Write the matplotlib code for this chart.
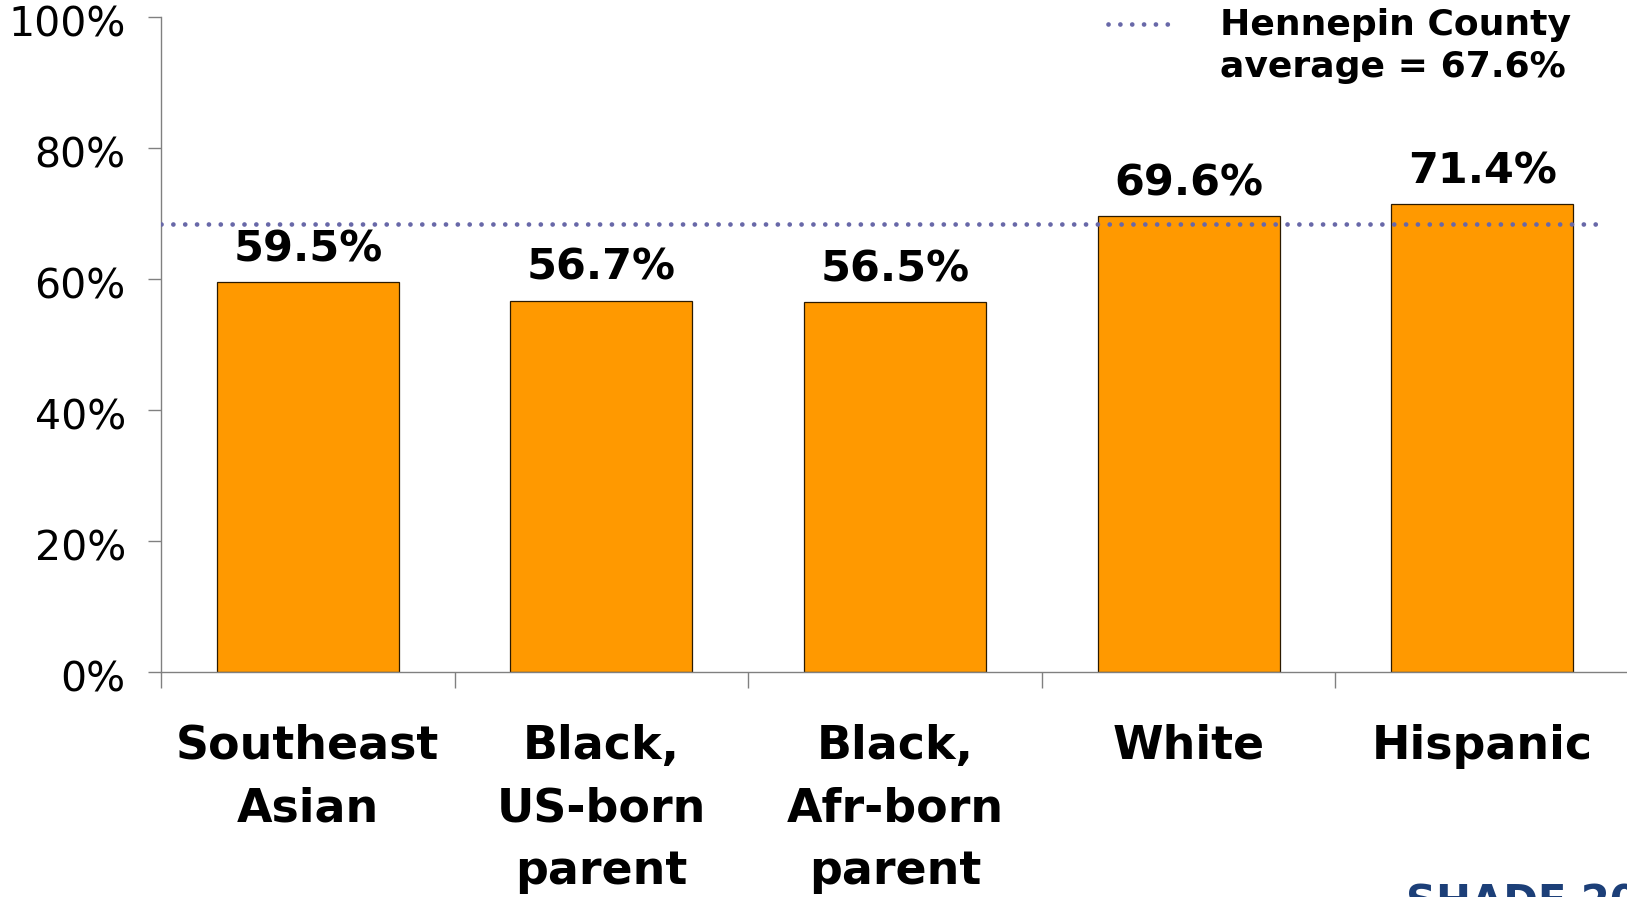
import matplotlib.pyplot as plt
import numpy as np
from matplotlib.lines import Line2D
from matplotlib.transforms import ScaledTranslation

# data
groups = ['Southeast\nAsian', 'Black,\nUS-born\nparent', 'Black,\nAfr-born\nparent', 'White', 'Hispanic']
values = [59.5, 56.7, 56.5, 69.6, 71.4]
value_labels = ['59.5%', '56.7%', '56.5%', '69.6%', '71.4%']
county_avg_label = 'Hennepin County\naverage = 67.6%'
avg_line_level = 68.3  # where the dotted line sits in the picture
y_ticks = [0, 20, 40, 60, 80, 100]

plt.rcParams['font.family'] = 'DejaVu Sans'

fig = plt.figure(figsize=(16.27, 8.97), dpi=100)
ax = fig.add_axes([0.099, 0.2504, 0.9022, 0.7311])

x = np.arange(len(groups))
ax.bar(x, values, width=0.62, color='#ff9900', edgecolor='#2b1a00', linewidth=0.9, zorder=2)

for xi, v, lab in zip(x, values, value_labels):
    ax.annotate(lab, (xi, v), xytext=(0, 14.8), textcoords='offset points',
                ha='center', va='baseline', fontsize=31, fontweight='bold', zorder=4)

# county average
ax.hlines(avg_line_level, -0.5, len(groups) - 0.61, colors='#6868a8', linewidth=3.4,
          linestyles=(0, (0.01, 2.5)), zorder=3, capstyle='round')

ax.set_xlim(-0.5, len(groups) - 0.5)
ax.set_ylim(0, 100)

ax.set_xticks(x)
ax.set_xticklabels(groups, fontsize=33, fontweight='bold', linespacing=1.5)
ax.tick_params(axis='x', which='major', length=0, pad=37)
ax.set_xticks(np.arange(len(groups)) - 0.5, minor=True)
ax.tick_params(axis='x', which='minor', length=11.5, width=1.0, color='#808080', direction='out')

ax.set_yticks(y_ticks)
ax.set_yticklabels([f'{t}%' for t in y_ticks], fontsize=29.5)
ax.tick_params(axis='y', length=9.4, width=1.0, color='#808080', pad=16)
for lab in ax.get_yticklabels():
    lab.set_transform(lab.get_transform() + ScaledTranslation(0, -4 / 100, fig.dpi_scale_trans))

for side in ['top', 'right']:
    ax.spines[side].set_visible(False)
for side in ['left', 'bottom']:
    ax.spines[side].set_color('#808080')
    ax.spines[side].set_linewidth(1.0)
ax.set_facecolor('none')

# legend key, drawn by hand so the dots sit beside the first line
fig.add_artist(Line2D([1108 / 1627, 1172 / 1627], [1 - 24 / 897, 1 - 24 / 897],
                      transform=fig.transFigure, color='#6868a8', linewidth=3.4,
                      linestyle=(0, (0.01, 2.5)), dash_capstyle='round'))
fig.text(1220 / 1627, 1 - 8 / 897, county_avg_label, fontsize=26, fontweight='bold',
         va='top', ha='left', linespacing=1.3)

# logo, cut off at the bottom edge
fig.text(1406 / 1627, 1 - 882 / 897, 'SHADE 2009', fontsize=30, fontweight='bold',
         color='#1c3f78', va='top', ha='left')

fig.savefig('out.png', dpi=100)
